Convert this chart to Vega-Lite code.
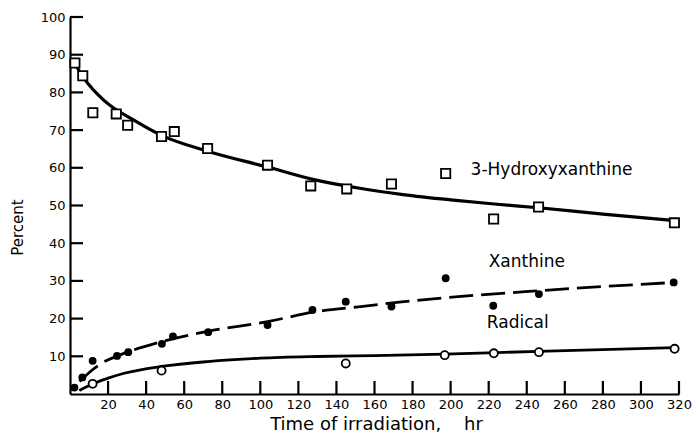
{
  "$schema": "https://vega.github.io/schema/vega-lite/v6.json",
  "autosize": "none",
  "width": 609,
  "height": 377,
  "padding": {"left": 70, "top": 17, "right": 14, "bottom": 44},
  "background": "white",
  "config": {
    "view": {"stroke": null},
    "font": "DejaVu Sans",
    "axis": {
      "grid": false,
      "domainColor": "black",
      "domainWidth": 2.2,
      "labelColor": "black",
      "titleColor": "black",
      "labelFont": "DejaVu Sans",
      "titleFont": "DejaVu Sans",
      "titleFontWeight": "normal"
    }
  },
  "datasets": {
    "pts": [
      {"series": "3-Hydroxyxanthine", "t": 2.6, "pct": 87.8},
      {"series": "3-Hydroxyxanthine", "t": 6.7, "pct": 84.4},
      {"series": "3-Hydroxyxanthine", "t": 12, "pct": 74.6},
      {"series": "3-Hydroxyxanthine", "t": 24.3, "pct": 74.3},
      {"series": "3-Hydroxyxanthine", "t": 30.3, "pct": 71.3},
      {"series": "3-Hydroxyxanthine", "t": 48.1, "pct": 68.3},
      {"series": "3-Hydroxyxanthine", "t": 54.8, "pct": 69.6},
      {"series": "3-Hydroxyxanthine", "t": 72.3, "pct": 65.1},
      {"series": "3-Hydroxyxanthine", "t": 103.8, "pct": 60.7},
      {"series": "3-Hydroxyxanthine", "t": 126.5, "pct": 55.2},
      {"series": "3-Hydroxyxanthine", "t": 145.4, "pct": 54.4},
      {"series": "3-Hydroxyxanthine", "t": 168.9, "pct": 55.7},
      {"series": "3-Hydroxyxanthine", "t": 197.4, "pct": 58.5},
      {"series": "3-Hydroxyxanthine", "t": 222.6, "pct": 46.4},
      {"series": "3-Hydroxyxanthine", "t": 246.2, "pct": 49.6},
      {"series": "3-Hydroxyxanthine", "t": 317.6, "pct": 45.4},
      {"series": "Xanthine", "t": 2.3, "pct": 1.7},
      {"series": "Xanthine", "t": 6.5, "pct": 4.4},
      {"series": "Xanthine", "t": 11.9, "pct": 8.8},
      {"series": "Xanthine", "t": 24.7, "pct": 10.1},
      {"series": "Xanthine", "t": 30.6, "pct": 11.1},
      {"series": "Xanthine", "t": 48.3, "pct": 13.3},
      {"series": "Xanthine", "t": 54.1, "pct": 15.3},
      {"series": "Xanthine", "t": 72.6, "pct": 16.4},
      {"series": "Xanthine", "t": 103.8, "pct": 18.3},
      {"series": "Xanthine", "t": 127.4, "pct": 22.3},
      {"series": "Xanthine", "t": 144.9, "pct": 24.5},
      {"series": "Xanthine", "t": 168.9, "pct": 23.2},
      {"series": "Xanthine", "t": 197.4, "pct": 30.7},
      {"series": "Xanthine", "t": 222.4, "pct": 23.4},
      {"series": "Xanthine", "t": 246.4, "pct": 26.5},
      {"series": "Xanthine", "t": 317.2, "pct": 29.6},
      {"series": "Radical", "t": 11.9, "pct": 2.7},
      {"series": "Radical", "t": 48.1, "pct": 6.2},
      {"series": "Radical", "t": 144.9, "pct": 8.1},
      {"series": "Radical", "t": 196.9, "pct": 10.3},
      {"series": "Radical", "t": 222.7, "pct": 10.8},
      {"series": "Radical", "t": 246.4, "pct": 11.1},
      {"series": "Radical", "t": 317.7, "pct": 12.0}
    ],
    "curves": [
      {"series": "3-Hydroxyxanthine", "t": 1, "pct": 89},
      {"series": "3-Hydroxyxanthine", "t": 7, "pct": 84},
      {"series": "3-Hydroxyxanthine", "t": 18, "pct": 77.8},
      {"series": "3-Hydroxyxanthine", "t": 34, "pct": 72.5},
      {"series": "3-Hydroxyxanthine", "t": 48.1, "pct": 68.6},
      {"series": "3-Hydroxyxanthine", "t": 72.3, "pct": 64.4},
      {"series": "3-Hydroxyxanthine", "t": 103.8, "pct": 60.2},
      {"series": "3-Hydroxyxanthine", "t": 127, "pct": 57.0},
      {"series": "3-Hydroxyxanthine", "t": 153, "pct": 54.5},
      {"series": "3-Hydroxyxanthine", "t": 175, "pct": 52.9},
      {"series": "3-Hydroxyxanthine", "t": 200, "pct": 51.5},
      {"series": "3-Hydroxyxanthine", "t": 223, "pct": 50.4},
      {"series": "3-Hydroxyxanthine", "t": 246.2, "pct": 49.4},
      {"series": "3-Hydroxyxanthine", "t": 280, "pct": 47.7},
      {"series": "3-Hydroxyxanthine", "t": 318, "pct": 46},
      {"series": "Xanthine", "t": 5, "pct": 3.3},
      {"series": "Xanthine", "t": 12, "pct": 6.5},
      {"series": "Xanthine", "t": 16.3, "pct": 8.1},
      {"series": "Xanthine", "t": 25, "pct": 10.1},
      {"series": "Xanthine", "t": 48.3, "pct": 13.9},
      {"series": "Xanthine", "t": 72.3, "pct": 16.6},
      {"series": "Xanthine", "t": 103.8, "pct": 19.2},
      {"series": "Xanthine", "t": 130, "pct": 21.9},
      {"series": "Xanthine", "t": 152.8, "pct": 23.2},
      {"series": "Xanthine", "t": 175.5, "pct": 24.5},
      {"series": "Xanthine", "t": 246.4, "pct": 27.4},
      {"series": "Xanthine", "t": 318, "pct": 29.6},
      {"series": "Radical", "t": 4.9, "pct": 0.9},
      {"series": "Radical", "t": 12, "pct": 2.7},
      {"series": "Radical", "t": 20, "pct": 4.2},
      {"series": "Radical", "t": 28.5, "pct": 5.5},
      {"series": "Radical", "t": 48.1, "pct": 7.3},
      {"series": "Radical", "t": 72.3, "pct": 8.6},
      {"series": "Radical", "t": 100, "pct": 9.5},
      {"series": "Radical", "t": 130, "pct": 9.95},
      {"series": "Radical", "t": 160, "pct": 10.2},
      {"series": "Radical", "t": 196.9, "pct": 10.6},
      {"series": "Radical", "t": 246, "pct": 11.3},
      {"series": "Radical", "t": 318, "pct": 12.3}
    ],
    "labels": [
      {"label": "3-Hydroxyxanthine", "t": 210.5, "pct": 59.4},
      {"label": "Xanthine", "t": 220, "pct": 35.0},
      {"label": "Radical", "t": 219, "pct": 18.8}
    ],
    "xticks": [
      {"t": 20, "pct": 0}, {"t": 40, "pct": 0}, {"t": 60, "pct": 0}, {"t": 80, "pct": 0},
      {"t": 100, "pct": 0}, {"t": 120, "pct": 0}, {"t": 140, "pct": 0}, {"t": 160, "pct": 0},
      {"t": 180, "pct": 0}, {"t": 200, "pct": 0}, {"t": 220, "pct": 0}, {"t": 240, "pct": 0},
      {"t": 260, "pct": 0}, {"t": 280, "pct": 0}, {"t": 300, "pct": 0}, {"t": 320, "pct": 0}
    ],
    "yticks": [
      {"t": 0, "pct": 10}, {"t": 0, "pct": 20}, {"t": 0, "pct": 30}, {"t": 0, "pct": 40},
      {"t": 0, "pct": 50}, {"t": 0, "pct": 60}, {"t": 0, "pct": 70}, {"t": 0, "pct": 80},
      {"t": 0, "pct": 90}, {"t": 0, "pct": 100}
    ]
  },
  "encoding": {
    "x": {
      "field": "t", "type": "quantitative",
      "scale": {"domain": [0, 320], "nice": false, "zero": false},
      "axis": {
        "orient": "bottom",
        "title": "Time of irradiation,\u00a0\u00a0\u00a0 hr",
        "values": [20,40,60,80,100,120,140,160,180,200,220,240,260,280,300,320],
        "ticks": false,
        "labelPadding": 4,
        "labelFontSize": 13,
        "labelFlush": false,
        "titleFontSize": 18,
        "titleX": 306,
        "titleY": 30,
        "titleAlign": "center",
        "titleBaseline": "middle"
      }
    },
    "y": {
      "field": "pct", "type": "quantitative",
      "scale": {"domain": [0, 100], "nice": false},
      "axis": {
        "orient": "left",
        "title": "Percent",
        "values": [10,20,30,40,50,60,70,80,90,100],
        "ticks": false,
        "labelPadding": 5,
        "labelFontSize": 13,
        "labelFlush": false,
        "titleFontSize": 15,
        "titleAngle": -90,
        "titleX": -53,
        "titleY": 210,
        "titleAlign": "center",
        "titleBaseline": "middle"
      }
    }
  },
  "layer": [
    {
      "data": {"name": "xticks"},
      "mark": {"type": "point", "shape": "M0,0L0,-1", "size": 676, "filled": false, "stroke": "black", "strokeWidth": 2.2, "opacity": 1}
    },
    {
      "data": {"name": "yticks"},
      "mark": {"type": "point", "shape": "M0,0L1,0", "size": 676, "filled": false, "stroke": "black", "strokeWidth": 2.2, "opacity": 1}
    },
    {
      "data": {"name": "curves"},
      "transform": [{"filter": "datum.series === '3-Hydroxyxanthine'"}],
      "mark": {"type": "line", "color": "black", "strokeWidth": 3.2, "interpolate": "monotone"},
      "encoding": {"order": {"field": "t", "type": "quantitative"}}
    },
    {
      "data": {"name": "curves"},
      "transform": [{"filter": "datum.series === 'Radical'"}],
      "mark": {"type": "line", "color": "black", "strokeWidth": 2.8, "interpolate": "monotone"},
      "encoding": {"order": {"field": "t", "type": "quantitative"}}
    },
    {
      "data": {"name": "curves"},
      "transform": [{"filter": "datum.series === 'Xanthine'"}],
      "mark": {"type": "line", "color": "black", "strokeWidth": 2.8, "interpolate": "monotone", "strokeDash": [24, 8]},
      "encoding": {"order": {"field": "t", "type": "quantitative"}}
    },
    {
      "data": {"name": "pts"},
      "transform": [{"filter": "datum.series === '3-Hydroxyxanthine'"}],
      "mark": {"type": "point", "shape": "square", "filled": true, "fill": "white", "stroke": "black", "strokeWidth": 1.8, "size": 85, "opacity": 1}
    },
    {
      "data": {"name": "pts"},
      "transform": [{"filter": "datum.series === 'Xanthine'"}],
      "mark": {"type": "point", "shape": "circle", "filled": true, "fill": "black", "size": 62, "opacity": 1}
    },
    {
      "data": {"name": "pts"},
      "transform": [{"filter": "datum.series === 'Radical'"}],
      "mark": {"type": "point", "shape": "circle", "filled": true, "fill": "white", "stroke": "black", "strokeWidth": 1.8, "size": 65, "opacity": 1}
    },
    {
      "data": {"name": "labels"},
      "mark": {"type": "text", "align": "left", "baseline": "middle", "fontSize": 17, "color": "black", "font": "DejaVu Sans"},
      "encoding": {"text": {"field": "label"}}
    }
  ]
}
